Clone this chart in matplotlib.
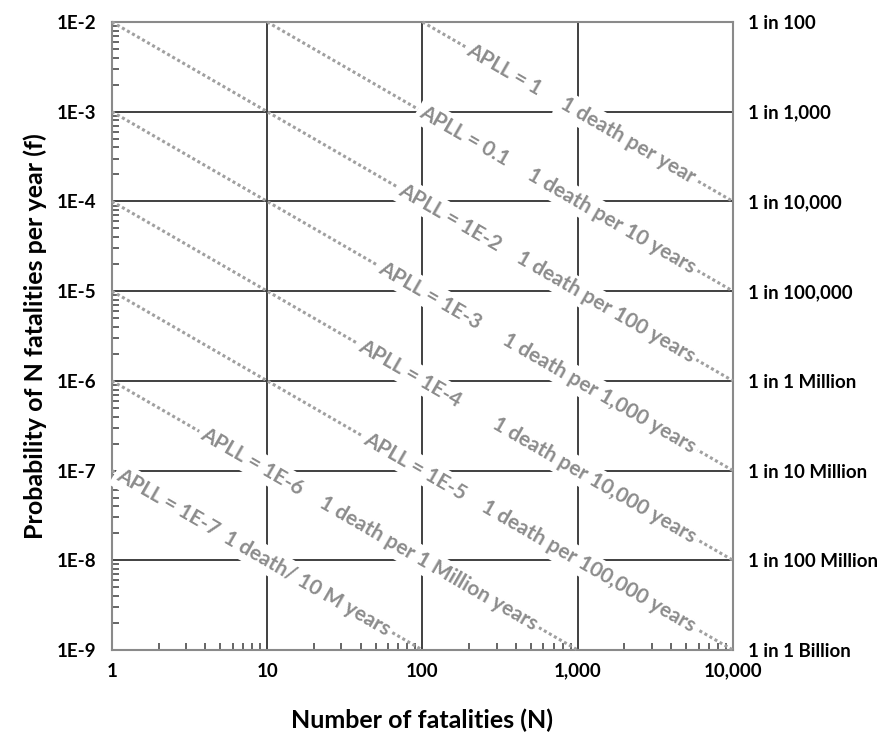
import numpy as np
import matplotlib
matplotlib.use("Agg")
import matplotlib.pyplot as plt

plt.rcParams['font.family'] = ['Lato', 'DejaVu Sans']

# APLL = N * f, one iso-risk line per value
apll = [1, 0.1, 1e-2, 1e-3, 1e-4, 1e-5, 1e-6, 1e-7]
apll_labels = ["APLL = 1", "APLL = 0.1", "APLL = 1E-2", "APLL = 1E-3",
               "APLL = 1E-4", "APLL = 1E-5", "APLL = 1E-6", "APLL = 1E-7"]
death_labels = ["1 death per year", "1 death per 10 years",
                "1 death per 100 years", "1 death per 1,000 years",
                "1 death per 10,000 years", "1 death per 100,000 years",
                "1 death per 1 Million years", "1 death/ 10 M years"]
# N at which each label sits on its line
apll_label_n = [338, 186, 151, 112, 83, 90, 8, 2.3]
death_label_n = [2100, 1660, 1510, 1380, 1270, 1180, 109, 18]

x_ticks = [1, 10, 100, 1000, 10000]
x_ticklabels = ["1", "10", "100", "1,000", "10,000"]
y_ticks = [1e-2, 1e-3, 1e-4, 1e-5, 1e-6, 1e-7, 1e-8, 1e-9]
y_ticklabels = ["1E-2", "1E-3", "1E-4", "1E-5", "1E-6", "1E-7", "1E-8", "1E-9"]
right_labels = ["1 in 100", "1 in 1,000", "1 in 10,000", "1 in 100,000",
                "1 in 1 Million", "1 in 10 Million", "1 in 100 Million",
                "1 in 1 Billion"]

fig = plt.figure(figsize=(8.93, 7.33), dpi=100)
ax = fig.add_axes([0.1254, 0.1132, 0.6954, 0.8568])
ax.set_xscale('log')
ax.set_yscale('log')
xmin, xmax = 1, 1e4
ymin, ymax = 1e-9, 1e-2
ax.set_xlim(xmin, xmax)
ax.set_ylim(ymin, ymax)

for pos in ('top', 'bottom', 'left', 'right'):
    ax.spines[pos].set_color('#8a8a8a')
    ax.spines[pos].set_linewidth(1.5)

ax.grid(True, which='major', color='#404040', linewidth=1.4)
ax.set_axisbelow(True)

ax.set_xticks(x_ticks)
ax.set_xticklabels(x_ticklabels, fontsize=13.5, fontweight='bold')
ax.set_yticks(y_ticks)
ax.set_yticklabels(y_ticklabels, fontsize=13.5, fontweight='bold')
ax.tick_params(which='major', length=0)
ax.tick_params(axis='y', which='major', pad=11)
ax.tick_params(axis='x', which='major', pad=9)
ax.tick_params(which='minor', direction='in', length=5, width=1.1,
               color='#3c3c3c', labelleft=False, labelbottom=False)

ax.set_xlabel("Number of fatalities (N)", fontsize=18, fontweight='bold',
              labelpad=21)
ax.set_ylabel("Probability of N fatalities per year (f)", fontsize=18,
              fontweight='bold', labelpad=7)

ax2 = ax.twinx()
ax2.set_yscale('log')
ax2.set_ylim(ymin, ymax)
ax2.set_yticks(y_ticks)
ax2.set_yticklabels(right_labels, fontsize=13.5, fontweight='bold')
ax2.yaxis.set_minor_locator(matplotlib.ticker.NullLocator())
ax2.tick_params(axis='y', length=0, pad=11)
for pos in ('top', 'bottom', 'left', 'right'):
    ax2.spines[pos].set_visible(False)

# screen angle of a slope -1 line in log-log space
p = ax.transData.transform([[1, 1e-2], [10, 1e-3]])
angle = np.degrees(np.arctan2(p[1, 1] - p[0, 1], p[1, 0] - p[0, 0]))

label_style = dict(color='#8c8c8c', fontsize=15, fontweight='bold',
                   rotation=angle, rotation_mode='anchor', ha='center',
                   va='center', zorder=6, clip_on=False,
                   bbox=dict(facecolor='white', edgecolor='none', pad=2.5))

for a, lab1, lab2, n1, n2 in zip(apll, apll_labels, death_labels,
                                 apll_label_n, death_label_n):
    n_start = max(xmin, a / ymax)
    n_end = min(xmax, a / ymin)
    # dotted line only outside the pair of labels
    for seg in ([n_start, n1], [n2, n_end]):
        n = np.array(seg)
        ax.plot(n, a / n, color='#a0a0a0', linewidth=2.2,
                linestyle=(0, (1, 0.9)), zorder=4, clip_on=False)
    ax.text(n1, a / n1, lab1, **label_style)
    ax.text(n2, a / n2, lab2, **label_style)

fig.savefig("out.png", dpi=100)
